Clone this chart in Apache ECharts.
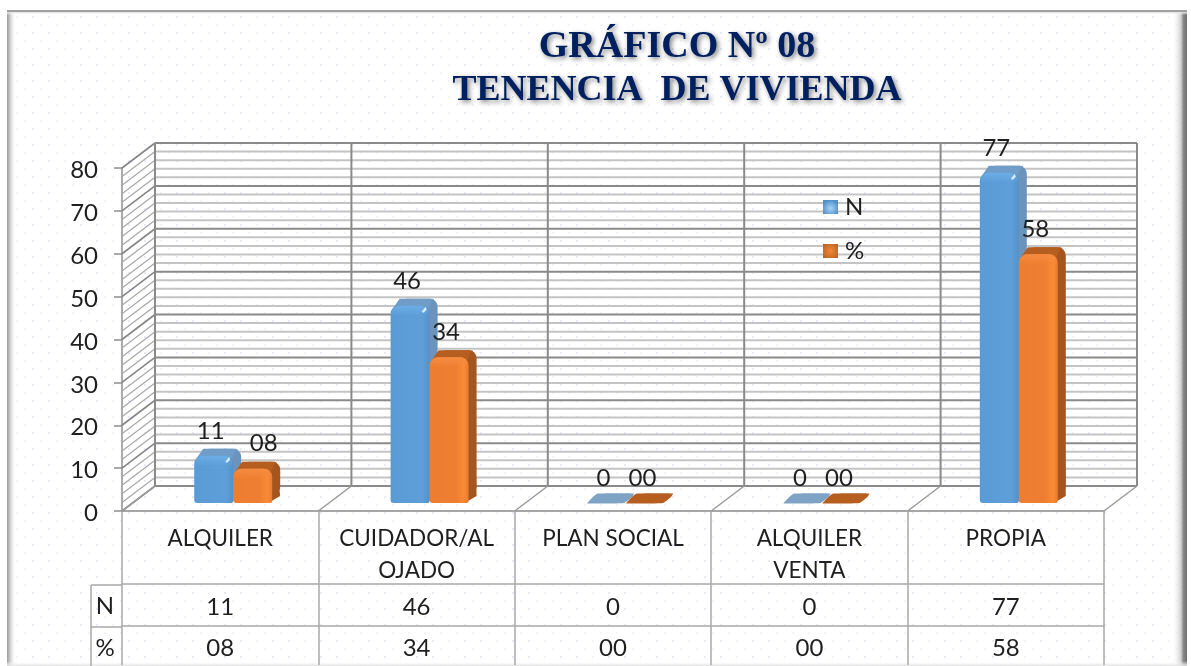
<!DOCTYPE html>
<html>
<head>
<meta charset="utf-8">
<style>html,body{margin:0;padding:0;background:#fff}#c{width:1191px;height:666px}</style>
<script src="https://cdn.jsdelivr.net/npm/echarts@6/dist/echarts.min.js"></script>
</head>
<body>
<div id="c"></div>
<script>
const categories = ['ALQUILER', 'CUIDADOR/AL\nOJADO', 'PLAN SOCIAL', 'ALQUILER\nVENTA', 'PROPIA'];
const valuesN = [11, 46, 0, 0, 77];
const valuesPct = [8, 34, 0, 0, 58];
const labelsN = ['11', '46', '0', '0', '77'];
const labelsPct = ['08', '34', '00', '00', '58'];
const yTicks = [0,2,4,6,8,10,12,14,16,18,20,22,24,26,28,30,32,34,36,38,40,42,44,46,48,50,52,54,56,58,60,62,64,66,68,70,72,74,76,78,80];
const edges = [0,1,2,3,4,5];
const titleLine1 = 'GRÁFICO Nº 08';
const titleLine2 = 'TENENCIA  DE VIVIENDA';

const FONT = 'Lato';
const TXT = '#1f1f1f';
const FS = 24;
const FS_CAT = 22.5;
const DX = 33, DY = -25;        // wall depth
const BX = 13, BY = -8;         // bars stand inside the floor
const BW = 39, SX = 8, SY = -7; // bar width and own depth

const pat = document.createElement('canvas');
pat.width = 48; pat.height = 48;
const g = pat.getContext('2d');
g.fillStyle = '#ffffff'; g.fillRect(0, 0, 48, 48);
for (let y = 0; y < 48; y += 8) for (let x = 0; x < 48; x += 16) {
  const ox = (y % 16) ? 8 : 0;
  g.fillStyle = (x + ox) % 32 === 0 && y % 16 === 0 ? '#e4ebfa' : '#f1f4fc';
  g.fillRect(x + ox, y, 2, 2);
}

const palette = [
  { front: ['#5b9bd5', '#5f9fd9', '#5591c9'], side: '#6a94bc', cap: '#6f9dc8', flat: '#7ea3c4', light: '#d5ecfd', top: '#6cade6' },
  { front: ['#ed7d31', '#ee7f32', '#f98b36', '#e97a2e'], side: '#a5551e', cap: '#b65e20', flat: '#b65e20', light: '#f9a968', top: '#f58c40' }
];

function barItem(seriesIdx, labels) {
  return function (params, api) {
    const i = api.value(0), v = api.value(1);
    const p = api.coord([i, v]), p0 = api.coord([i, 0]);
    const c = palette[seriesIdx];
    const x = p[0] + BX - BW + seriesIdx * BW;
    const base = p0[1] + BY, top = p[1] + BY;
    const h = base - top;
    const kids = [];
    if (h < 1) {
      kids.push({ type: 'polygon', shape: { smooth: 0.15, points: [
        [x, base + 0.5], [x + 7, base - 7], [x + 11, base - 9.5], [x + BW + 8, base - 9.5],
        [x + BW + 6, base - 6], [x + BW - 2, base], [x + 3, base + 0.5]] },
        style: { fill: c.flat } });
    } else {
      kids.push({ type: 'rect', shape: { x: x + SX, y: top + SY, width: BW, height: h - 2, r: [8, 8, 7, 0] }, style: { fill: c.side } });
      kids.push({ type: 'polygon', shape: { points: [[x + BW - 4, top], [x + BW + 4, top + SY], [x + BW + SX, base + SY], [x + BW - 4, base]] }, style: { fill: c.side } });
      kids.push({ type: 'polygon', shape: { points: [[x + 2, top + 3], [x + 9, top + SY], [x + BW + 3, top + SY], [x + BW - 1, top + 3]] }, style: { fill: c.cap } });
      const stops = c.front.length === 4
        ? [{ offset: 0, color: c.front[0] }, { offset: 0.68, color: c.front[1] }, { offset: 0.88, color: c.front[2] }, { offset: 1, color: c.front[3] }]
        : [{ offset: 0, color: c.front[0] }, { offset: 0.8, color: c.front[1] }, { offset: 1, color: c.front[2] }];
      kids.push({ type: 'rect', shape: { x: x, y: top, width: BW, height: h, r: [8, 8, 2, 3] },
        style: { fill: { type: 'linear', x: 0, y: 0, x2: 1, y2: 0, colorStops: stops } } });
      kids.push({ type: 'rect', shape: { x: x + 1, y: top, width: BW - 2, height: Math.min(10, h), r: [8, 8, 0, 0] },
        style: { fill: { type: 'linear', x: 0, y: 0, x2: 0, y2: 1, colorStops: [
          { offset: 0, color: c.top }, { offset: 1, color: c.top + '00' }] } } });
      if (seriesIdx === 0) {
        kids.push({ type: 'polygon', shape: { points: [[x + BW - 8, top + 6], [x + BW - 4, top + 1], [x + BW - 3, top + 4], [x + BW - 6, top + 7]] }, style: { fill: c.light } });
      }
    }
    const nudge = (seriesIdx === 1 && i === 0) ? 11 : -3;
    kids.push({ type: 'text', style: {
      text: labels[i], x: x + BW / 2 + nudge, y: top + SY - 18,
      align: 'center', verticalAlign: 'middle', font: FS + 'px ' + FONT, fill: TXT } });
    return { type: 'group', children: kids };
  };
}

function wallItem(params, api) {
  const v = api.value(1);
  const y = api.coord([0, v])[1];
  const cs = params.coordSys;
  const major = v % 10 === 0;
  return { type: 'group', children: [
    { type: 'line', shape: { x1: cs.x, y1: y, x2: cs.x + DX, y2: y + DY },
      style: { stroke: major ? '#858585' : '#a8a8a8', lineWidth: major ? 1.6 : 1.2 } },
    { type: 'line', shape: { x1: cs.x + DX, y1: y + DY, x2: cs.x + cs.width + DX, y2: y + DY },
      style: { stroke: major ? '#8a8a8a' : '#c4c4c4', lineWidth: 2 } }
  ] };
}

function edgeItem(params, api) {
  const i = api.value(0);
  const cs = params.coordSys;
  const x = cs.x + i * cs.width / 5;
  const y0 = cs.y + cs.height, yt = cs.y;
  return { type: 'group', children: [
    { type: 'line', shape: { x1: x, y1: y0, x2: x + DX, y2: y0 + DY }, style: { stroke: '#9a9a9a', lineWidth: 1.5 } },
    { type: 'line', shape: { x1: x + DX, y1: y0 + DY, x2: x + DX, y2: yt + DY }, style: { stroke: '#8a8a8a', lineWidth: 2 } }
  ] };
}

const rowLabel = { fontFamily: FONT, fontSize: FS, color: TXT, interval: 0 };
const TABLE = '#a9a9a9';
const titleStyle = { fontFamily: 'Liberation Serif', fontWeight: 'bold', color: '#002060',
  textShadowColor: 'rgba(0,0,0,0.5)', textShadowBlur: 5, textShadowOffsetX: 2, textShadowOffsetY: 2 };

const chart = echarts.init(document.getElementById('c'), null, { renderer: 'canvas' });
chart.setOption({
  animation: false,
  backgroundColor: '#ffffff',
  title: [
    { text: titleLine1, left: 672, top: 23, textAlign: 'center', textStyle: Object.assign({}, titleStyle, { fontSize: 38 }) },
    { text: titleLine2, left: 672, top: 68, textAlign: 'center', textStyle: Object.assign({}, titleStyle, { fontSize: 36 }) }
  ],
  legend: {
    orient: 'vertical', left: 818, top: 190, itemWidth: 15, itemHeight: 14, itemGap: 20, icon: 'rect',
    textStyle: { fontFamily: FONT, fontSize: FS, color: TXT, padding: [0, 0, 0, 2] },
    data: [
      { name: 'N', itemStyle: { color: { type: 'radial', x: 0.5, y: 0.6, r: 0.6, colorStops: [{ offset: 0, color: '#a9d4f5' }, { offset: 1, color: '#4f8fca' }] } } },
      { name: '%', itemStyle: { color: { type: 'radial', x: 0.5, y: 0.5, r: 0.7, colorStops: [{ offset: 0, color: '#f4873a' }, { offset: 1, color: '#b9621f' }] } } }
    ]
  },
  grid: { left: 122, right: 87, top: 168, bottom: 155, containLabel: false },
  xAxis: [
    { type: 'category', data: categories, position: 'bottom',
      axisLine: { lineStyle: { color: '#a6a6a6', width: 2 } },
      axisTick: { show: true, length: 154, alignWithLabel: false, lineStyle: { color: TABLE, width: 1.5 } },
      axisLabel: Object.assign({}, rowLabel, { fontSize: FS_CAT, margin: 12, lineHeight: 32 }) },
    { type: 'category', data: labelsN, position: 'bottom', offset: 73,
      axisLine: { lineStyle: { color: TABLE, width: 1.5 } }, axisTick: { show: false },
      axisLabel: Object.assign({}, rowLabel, { margin: 11, lineHeight: 24 }) },
    { type: 'category', data: labelsPct, position: 'bottom', offset: 115,
      axisLine: { lineStyle: { color: TABLE, width: 1.5 } }, axisTick: { show: false },
      axisLabel: Object.assign({}, rowLabel, { margin: 10, lineHeight: 24 }) }
  ],
  yAxis: {
    type: 'value', min: 0, max: 80, interval: 10,
    axisLine: { show: true, lineStyle: { color: '#8f8f8f', width: 1.5 } },
    axisTick: { show: true, length: 8, lineStyle: { color: '#8f8f8f', width: 1.5 } },
    splitLine: { show: false },
    axisLabel: { margin: 24, formatter: '{t|{value}}',
      rich: { t: { fontFamily: FONT, fontSize: FS, color: TXT, padding: [5, 0, 0, 0] } } }
  },
  graphic: [
    { type: 'rect', z: -5, shape: { x: 7, y: 10, width: 1179, height: 656 }, style: { fill: { image: pat, repeat: 'repeat' } } },
    { type: 'rect', z: -4, shape: { x: 7, y: 10, width: 9, height: 656 }, style: { fill: { type: 'linear', x: 0, y: 0, x2: 1, y2: 0, colorStops: [{ offset: 0, color: '#9c9c9c' }, { offset: 0.25, color: '#bdbdbd' }, { offset: 1, color: 'rgba(255,255,255,0)' }] } } },
    { type: 'rect', z: -4, shape: { x: 1172, y: 10, width: 15, height: 656 }, style: { fill: { type: 'linear', x: 0, y: 0, x2: 1, y2: 0, colorStops: [{ offset: 0, color: 'rgba(255,255,255,0)' }, { offset: 0.6, color: '#d0d0d0' }, { offset: 0.75, color: '#8a8a8a' }, { offset: 1, color: '#6e6e6e' }] } } },
    { type: 'rect', z: -3, shape: { x: 7, y: 10, width: 1180, height: 2 }, style: { fill: '#a0a0a0' } },
    { type: 'rect', z: -3, shape: { x: 7, y: 12, width: 1180, height: 3 }, style: { fill: { type: 'linear', x: 0, y: 0, x2: 0, y2: 1, colorStops: [{ offset: 0, color: '#dddddd' }, { offset: 1, color: 'rgba(255,255,255,0)' }] } } },
    { type: 'rect', z: -3, shape: { x: 7, y: 661, width: 1180, height: 5 }, style: { fill: { type: 'linear', x: 0, y: 0, x2: 0, y2: 1, colorStops: [{ offset: 0, color: 'rgba(255,255,255,0)' }, { offset: 1, color: '#e2e2e2' }] } } },
    { type: 'line', z: 3, shape: { x1: 91, y1: 585, x2: 122, y2: 585 }, style: { stroke: TABLE, lineWidth: 1.5 } },
    { type: 'line', z: 3, shape: { x1: 91, y1: 627, x2: 122, y2: 627 }, style: { stroke: TABLE, lineWidth: 1.5 } },
    { type: 'line', z: 3, shape: { x1: 91, y1: 585, x2: 91, y2: 666 }, style: { stroke: TABLE, lineWidth: 1.5 } },
    { type: 'text', z: 3, style: { text: 'N', x: 105, y: 606, align: 'center', verticalAlign: 'middle', font: FS + 'px ' + FONT, fill: TXT } },
    { type: 'text', z: 3, style: { text: '%', x: 105, y: 648, align: 'center', verticalAlign: 'middle', font: FS + 'px ' + FONT, fill: TXT } }
  ],
  series: [
    { type: 'custom', name: 'wall', silent: true, clip: false, z: 1, renderItem: wallItem, encode: { x: 0, y: 1 }, data: yTicks.map(v => [0, v]) },
    { type: 'custom', name: 'edges', silent: true, clip: false, z: 1, renderItem: edgeItem, encode: { x: 0 }, data: edges.map(e => [e, 0]) },
    { type: 'custom', name: 'N', clip: false, z: 3, renderItem: barItem(0, labelsN), encode: { x: 0, y: 1 }, itemStyle: { color: '#5b9bd5' }, data: valuesN.map((v, i) => [i, v]) },
    { type: 'custom', name: '%', clip: false, z: 4, renderItem: barItem(1, labelsPct), encode: { x: 0, y: 1 }, itemStyle: { color: '#ed7d31' }, data: valuesPct.map((v, i) => [i, v]) }
  ]
});
</script>
</body>
</html>
